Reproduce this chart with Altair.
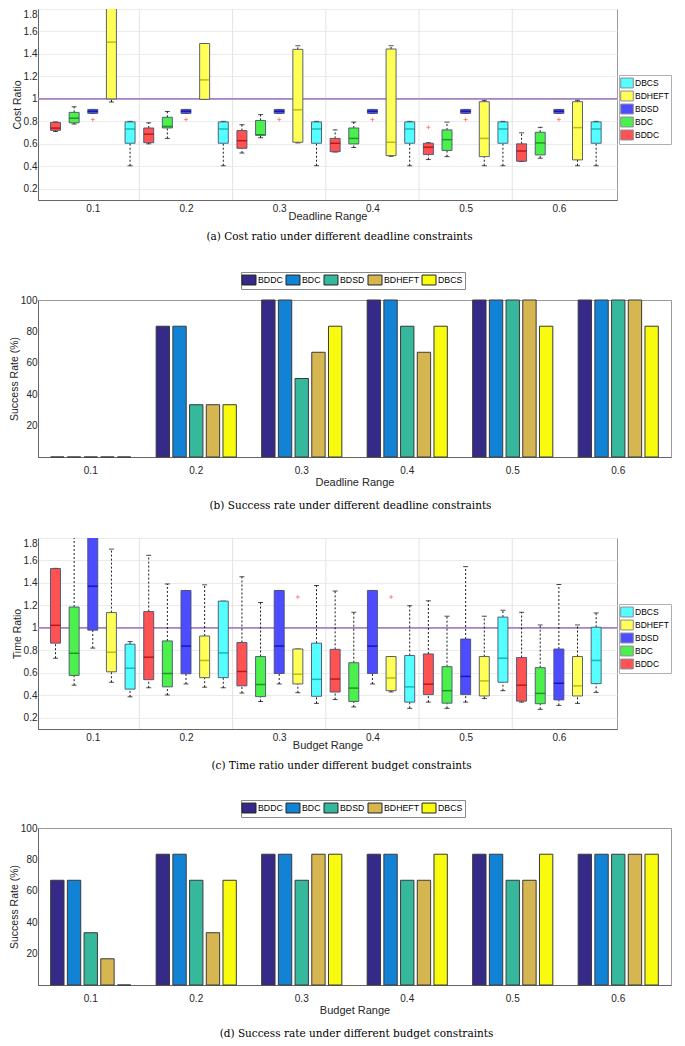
import json
import altair as alt
import pandas as pd

groups = ["0.1", "0.2", "0.3", "0.4", "0.5", "0.6"]
algs = ["BDDC", "BDC", "BDSD", "BDHEFT", "DBCS"]
legend_order = ["DBCS", "BDHEFT", "BDSD", "BDC", "BDDC"]

# (a) cost ratio box statistics per deadline range: (low whisker, q1, median, q3, high whisker)
cost_BDDC = [(0.71, 0.72, 0.74, 0.79, 0.795), (0.60, 0.61, 0.686, 0.741, 0.787),
             (0.518, 0.56, 0.628, 0.718, 0.77), (0.527, 0.53, 0.605, 0.648, 0.724),
             (0.46, 0.504, 0.57, 0.605, 0.61), (0.443, 0.445, 0.536, 0.60, 0.698)]
cost_BDC = [(0.776, 0.787, 0.828, 0.88, 0.93), (0.648, 0.741, 0.755, 0.836, 0.888),
            (0.654, 0.677, 0.68, 0.808, 0.86), (0.567, 0.599, 0.648, 0.741, 0.793),
            (0.486, 0.541, 0.637, 0.724, 0.793), (0.472, 0.501, 0.608, 0.703, 0.747)]
cost_BDSD = [(0.87, 0.871, 0.89, 0.906, 0.906)] * 6
cost_BDHEFT = [(0.972, 1.0, 1.505, 2.2, 2.2), (0.996, 0.996, 1.169, 1.493, 1.493),
               (0.608, 0.614, 0.903, 1.441, 1.473), (0.489, 0.495, 0.614, 1.444, 1.473),
               (0.405, 0.486, 0.648, 0.975, 0.987), (0.405, 0.457, 0.744, 0.975, 0.987)]
cost_DBCS = [(0.405, 0.605, 0.732, 0.795, 0.80)] * 6
cost_out_alg = ["BDSD", "BDSD", "BDSD", "BDSD", "BDSD", "BDSD", "BDDC"]
cost_out_group = [0, 1, 2, 3, 4, 5, 4]
cost_out_val = [0.816, 0.816, 0.816, 0.816, 0.816, 0.816, 0.747]

# (c) time ratio box statistics per budget range
time_BDDC = [(0.73, 0.864, 1.023, 1.528, 1.53), (0.467, 0.539, 0.739, 1.145, 1.646),
             (0.42, 0.484, 0.612, 0.87, 1.455), (0.362, 0.429, 0.545, 0.809, 1.328),
             (0.339, 0.406, 0.499, 0.768, 1.241), (0.339, 0.348, 0.49, 0.736, 1.139)]
time_BDC = [(0.49, 0.577, 0.774, 1.186, 2.2), (0.403, 0.475, 0.594, 0.884, 1.391),
            (0.345, 0.388, 0.496, 0.745, 1.226), (0.296, 0.345, 0.464, 0.69, 1.139),
            (0.284, 0.33, 0.441, 0.655, 1.104), (0.275, 0.325, 0.417, 0.646, 1.026)]
time_BDSD = [(0.82, 0.98, 1.371, 2.2, 2.2), (0.501, 0.591, 0.838, 1.333, 1.333),
             (0.501, 0.594, 0.838, 1.333, 1.333), (0.501, 0.594, 0.838, 1.333, 1.333),
             (0.339, 0.406, 0.568, 0.901, 1.545), (0.31, 0.359, 0.507, 0.812, 1.386)]
time_BDHEFT = [(0.516, 0.609, 0.783, 1.136, 1.701), (0.472, 0.557, 0.71, 0.928, 1.383),
               (0.423, 0.501, 0.588, 0.812, 0.812), (0.43, 0.441, 0.554, 0.745, 0.745),
               (0.371, 0.394, 0.528, 0.745, 1.104), (0.328, 0.394, 0.484, 0.745, 1.026)]
time_DBCS = [(0.386, 0.455, 0.641, 0.855, 0.878), (0.467, 0.557, 0.777, 1.238, 1.238),
             (0.328, 0.391, 0.542, 0.864, 1.377), (0.284, 0.339, 0.475, 0.754, 1.197),
             (0.441, 0.516, 0.73, 1.096, 1.157), (0.426, 0.504, 0.71, 1.006, 1.133)]
time_out_alg = ["BDHEFT", "BDHEFT"]
time_out_group = [2, 3]
time_out_val = [1.275, 1.275]

# (b) success rate (%) under deadline ranges
rate_dl_BDDC = [0, 83.3, 100, 100, 100, 100]
rate_dl_BDC = [0, 83.3, 100, 100, 100, 100]
rate_dl_BDSD = [0, 33.3, 50, 83.3, 100, 100]
rate_dl_BDHEFT = [0, 33.3, 66.7, 66.7, 100, 100]
rate_dl_DBCS = [0, 33.3, 83.3, 83.3, 83.3, 83.3]

# (d) success rate (%) under budget ranges
rate_bg_BDDC = [66.7, 83.3, 83.3, 83.3, 83.3, 83.3]
rate_bg_BDC = [66.7, 83.3, 83.3, 83.3, 83.3, 83.3]
rate_bg_BDSD = [33.3, 66.7, 66.7, 66.7, 66.7, 83.3]
rate_bg_BDHEFT = [16.7, 33.3, 83.3, 66.7, 66.7, 83.3]
rate_bg_DBCS = [0, 66.7, 83.3, 83.3, 83.3, 83.3]

box_fill = ["#55ffff", "#ffff55", "#4d4dff", "#4cf04c", "#ff5252"]      # legend_order
box_median = ["#009a9a", "#a0a000", "#00008a", "#107010", "#a00000"]
bar_colors = ["#352a87", "#1283d4", "#36b89c", "#d6b650", "#f9fb0e"]    # algs order

FONT = "Liberation Sans"
TXT = "#262626"
BOX_W, BOX_H = 579, 191
BAR_W, BAR_H = 633, 157

box_sym = "M-1.14,-0.9L1.14,-0.9L1.14,0.9L-1.14,0.9Z"
bar_sym = "M-1.27,-0.9L1.27,-0.9L1.27,0.9L-1.27,0.9Z"


def caption_title(text, dx, offset):
    return alt.TitleParams(text, orient="bottom", font="DejaVu Serif", fontSize=10.5,
                           fontWeight="normal", color="black", anchor="middle",
                           frame="group", offset=offset, dx=dx)


def box_panel(stats, out_alg, out_grp, out_val, ytitle, xtitle, caption, cap_dx):
    rows = []
    for g, grp in enumerate(groups):
        for a, alg in enumerate(algs):
            lo, q1, med, q3, hi = stats[alg][g]
            rows.append({"pos": g * 5 + a + 1, "alg": alg, "lo": lo, "q1": q1,
                         "med": med, "q3": q3, "hi": hi})
    df = pd.DataFrame(rows)
    odf = pd.DataFrame({"pos": [g * 5 + algs.index(a) + 1 for a, g in zip(out_alg, out_grp)],
                        "v": out_val})
    sdf = pd.DataFrame({"pos": [g * 5 + 0.5 for g in range(1, len(groups))]})
    rdf = pd.DataFrame({"r": [1.0]})
    centers = [g * 5 + 3 for g in range(len(groups))]
    xscale = alt.Scale(domain=[0.33, 30.85], nice=False, zero=False)
    yscale = alt.Scale(domain=[0.1, 1.8], nice=False, zero=False)
    xaxis = alt.Axis(values=centers, labelExpr=json.dumps(groups) + "[round((datum.value - 3) / 5)]",
                     title=xtitle, grid=False, ticks=False, labelPadding=3, titlePadding=-3,
                     labelFontSize=10, titleFontSize=11, labelColor=TXT, titleColor=TXT,
                     titleFontWeight="normal", domainColor="#666")
    yaxis = alt.Axis(values=[0.2, 0.4, 0.6, 0.8, 1.0, 1.2, 1.4, 1.6, 1.8], format="~g",
                     labelBaseline={"condition": {"test": "datum.value >= 1.79", "value": "top"},
                                    "value": "middle"},
                     title=ytitle, grid=True, gridColor="#ebebeb", ticks=False, labelPadding=1,
                     titlePadding=1, labelFontSize=10, titleFontSize=10.5, labelColor=TXT,
                     titleColor=TXT, titleFontWeight="normal", domainColor="#666")
    X = alt.X("pos:Q", scale=xscale, axis=xaxis)

    def Y(f):
        return alt.Y(f, scale=yscale, axis=yaxis)

    base = alt.Chart(df)
    sep = alt.Chart(sdf).mark_rule(color="#e3e3e3", strokeWidth=1).encode(x=X)
    refl = alt.Chart(rdf).mark_rule(color="#a883c6", strokeWidth=1.6).encode(y=Y("r:Q"))
    w_hi = base.mark_rule(color="black", strokeDash=[2, 2], strokeWidth=0.9, clip=True).encode(
        x=X, y=Y("q3:Q"), y2="hi:Q")
    w_lo = base.mark_rule(color="black", strokeDash=[2, 2], strokeWidth=0.9, clip=True).encode(
        x=X, y=Y("lo:Q"), y2="q1:Q")
    c_hi = base.mark_tick(color="black", size=5, thickness=1, orient="horizontal", clip=True).encode(
        x=X, y=Y("hi:Q"))
    c_lo = base.mark_tick(color="black", size=5, thickness=1, orient="horizontal", clip=True).encode(
        x=X, y=Y("lo:Q"))
    box = base.mark_bar(size=10, stroke="#4a5070", strokeWidth=0.9, opacity=1, clip=True).encode(
        x=X, y=Y("q1:Q"), y2="q3:Q",
        fill=alt.Fill("alg:N", scale=alt.Scale(domain=legend_order, range=box_fill),
                      legend=alt.Legend(title=None, orient="none", legendX=BOX_W + 2, legendY=66,
                                        direction="vertical", symbolType=box_sym, symbolSize=121,
                                        symbolStrokeColor="#8a8a9a", symbolStrokeWidth=1,
                                        symbolOpacity=1, labelFontSize=8.5, labelColor="black",
                                        labelOffset=2, rowPadding=-2.5, padding=2,
                                        strokeColor="#b0b0b0", fillColor="white", labelFont=FONT)))
    med = base.mark_tick(size=10, thickness=1.5, orient="horizontal", clip=True).encode(
        x=X, y=Y("med:Q"),
        color=alt.Color("alg:N", scale=alt.Scale(domain=legend_order, range=box_median), legend=None))
    outl = alt.Chart(odf).mark_point(shape="M-1,0L1,0M0,-1L0,1", filled=False, color="#ff3030",
                                     size=16, strokeWidth=0.8).encode(x=X, y=Y("v:Q"))
    return alt.layer(sep, refl, w_hi, w_lo, c_hi, c_lo, box, med, outl).properties(
        width=BOX_W, height=BOX_H, title=caption_title(caption, cap_dx, 11))


def bar_panel(rates, xtitle, caption, cap_dx):
    rows = []
    for a, alg in enumerate(algs):
        for g, grp in enumerate(groups):
            rows.append({"group": grp, "alg": alg, "rate": rates[alg][g]})
    df = pd.DataFrame(rows)
    return alt.Chart(df).mark_bar(stroke="#3a3a3a", strokeWidth=1).encode(
        x=alt.X("group:N", sort=groups, scale=alt.Scale(paddingInner=0.24, paddingOuter=0.12),
                axis=alt.Axis(title=xtitle, labelAngle=0, ticks=False, labelPadding=8.5, titlePadding=1,
                              labelFontSize=10, titleFontSize=11, labelColor=TXT, titleColor=TXT,
                              titleFontWeight="normal", domainColor="#666")),
        xOffset=alt.XOffset("alg:N", sort=algs, scale=alt.Scale(domain=algs, paddingInner=0.2,
                                                                  paddingOuter=0)),
        y=alt.Y("rate:Q", scale=alt.Scale(domain=[0, 100], nice=False),
                axis=alt.Axis(values=[20, 40, 60, 80, 100], title="Success Rate (%)", grid=False,
                              ticks=False, labelPadding=1, titlePadding=1, labelFontSize=10,
                              titleFontSize=10.5, labelColor=TXT, titleColor=TXT,
                              titleFontWeight="normal", domainColor="#666")),
        color=alt.Color("alg:N", scale=alt.Scale(domain=algs, range=bar_colors),
                        legend=alt.Legend(title=None, orient="none", legendX=(BAR_W - 226) // 2,
                                          legendY=-28, direction="horizontal", symbolType=bar_sym,
                                          symbolSize=121, symbolStrokeColor="#222",
                                          symbolStrokeWidth=1, symbolOpacity=1, labelFontSize=8.75,
                                          labelColor="black", labelOffset=3, columnPadding=1,
                                          padding=2, strokeColor="#888", fillColor="white",
                                          labelFont=FONT)),
    ).properties(width=BAR_W, height=BAR_H, title=caption_title(caption, cap_dx, 13))


pa = box_panel({"BDDC": cost_BDDC, "BDC": cost_BDC, "BDSD": cost_BDSD, "BDHEFT": cost_BDHEFT,
                "DBCS": cost_DBCS}, cost_out_alg, cost_out_group, cost_out_val,
               "Cost Ratio", "Deadline Range",
               "(a) Cost ratio under different deadline constraints", 12)
pb = bar_panel({"BDDC": rate_dl_BDDC, "BDC": rate_dl_BDC, "BDSD": rate_dl_BDSD,
                "BDHEFT": rate_dl_BDHEFT, "DBCS": rate_dl_DBCS}, "Deadline Range",
               "(b) Success rate under different deadline constraints", -4)
pc = box_panel({"BDDC": time_BDDC, "BDC": time_BDC, "BDSD": time_BDSD, "BDHEFT": time_BDHEFT,
                "DBCS": time_DBCS}, time_out_alg, time_out_group, time_out_val,
               "Time Ratio", "Budget Range",
               "(c) Time ratio under different budget constraints", 14)
pd_ = bar_panel({"BDDC": rate_bg_BDDC, "BDC": rate_bg_BDC, "BDSD": rate_bg_BDSD,
                 "BDHEFT": rate_bg_BDHEFT, "DBCS": rate_bg_DBCS}, "Budget Range",
                "(d) Success rate under different budget constraints", 2)

indep = dict(color="independent", fill="independent", x="independent", y="independent")
top = alt.vconcat(pa, pb, spacing=28).resolve_scale(**indep)
bottom = alt.vconcat(pc, pd_, spacing=27).resolve_scale(**indep)

chart = alt.vconcat(top, bottom, spacing=25).resolve_scale(**indep).properties(
    padding={"left": 0, "top": 0, "right": 0, "bottom": 0}, background="white"
).configure(font=FONT).configure_view(stroke="#9a9a9a")

chart.save("out.html", embed_options={"renderer": "svg", "actions": False})
